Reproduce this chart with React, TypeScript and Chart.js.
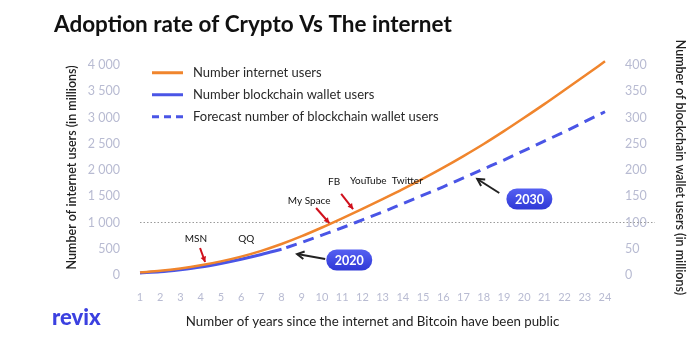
import React, { useEffect, useRef } from 'react';
import { Chart, registerables } from 'chart.js';

Chart.register(...registerables);

// ---------- data ----------
const years = ['1', '2', '3', '4', '5', '6', '7', '8', '9', '10', '11', '12', '13', '14', '15', '16', '17', '18', '19', '20', '21', '22', '23', '24'];
const internetUsers = [50, 80, 125, 185, 260, 350, 460, 590, 740, 905, 1080, 1260, 1445, 1635, 1835, 2045, 2265, 2495, 2740, 2995, 3255, 3525, 3795, 4070];
const walletUsers = [4, 6, 10, 15, 22, 30, 39, 49, null, null, null, null, null, null, null, null, null, null, null, null, null, null, null, null];
const walletForecast = [null, null, null, null, null, null, null, 49, 62, 76, 90, 105, 120, 136, 152, 168, 185, 202, 219, 237, 255, 273, 292, 311];
const leftTicks = [0, 500, 1000, 1500, 2000, 2500, 3000, 3500, 4000];
const rightTicks = [0, 50, 100, 150, 200, 250, 300, 350, 400];
const referenceLine = 1000;

const seriesNames = ['Number internet users', 'Number blockchain wallet users', 'Forecast number of blockchain wallet users'];

// annotations, in (year, left-axis value) units
const eventLabels = [
  { text: 'MSN', year: 3.77, value: 686 },
  { text: 'QQ', year: 6.25, value: 686 },
  { text: 'My Space', year: 9.37, value: 1410 },
  { text: 'FB', year: 10.6, value: 1771 },
  { text: 'YouTube', year: 12.29, value: 1790 },
  { text: 'Twitter', year: 14.22, value: 1790 },
];
const redArrows = [
  { fromYear: 3.97, fromValue: 514, toYear: 4.22, toValue: 248 },
  { fromYear: 9.71, fromValue: 1276, toYear: 10.36, toValue: 990 },
  { fromYear: 10.95, fromValue: 1543, toYear: 11.54, toValue: 1257 },
];
const blackArrows = [
  { fromYear: 10.16, fromValue: 305, toYear: 8.77, toValue: 400 },
  { fromYear: 18.77, fromValue: 1562, toYear: 17.68, toValue: 1829 },
];
const badges = [
  { text: '2020', year: 11.35, value: 286 },
  { text: '2030', year: 20.26, value: 1448 },
];

const ORANGE = '#f0852d';
const BLUE = '#4a55e6';
const TICK = '#b8bbd2';
const FONT = 'Lato, "Noto Sans", sans-serif';

function fmtThousands(v: number) {
  const s = String(Math.round(v));
  if (s.length <= 3) return s;
  return s.slice(0, s.length - 3) + ' ' + s.slice(s.length - 3);
}

function arrowHead(ctx: CanvasRenderingContext2D, x1: number, y1: number, x2: number, y2: number, size: number, filled: boolean) {
  const a = Math.atan2(y2 - y1, x2 - x1);
  const p1x = x2 - size * Math.cos(a - 0.5);
  const p1y = y2 - size * Math.sin(a - 0.5);
  const p2x = x2 - size * Math.cos(a + 0.5);
  const p2y = y2 - size * Math.sin(a + 0.5);
  ctx.beginPath();
  if (filled) {
    ctx.moveTo(x2, y2);
    ctx.lineTo(p1x, p1y);
    ctx.lineTo(p2x, p2y);
    ctx.closePath();
    ctx.fill();
  } else {
    ctx.moveTo(p1x, p1y);
    ctx.lineTo(x2, y2);
    ctx.lineTo(p2x, p2y);
    ctx.stroke();
  }
}

const decorPlugin = {
  id: 'decor',
  beforeDatasetsDraw(chart: any) {
    const { ctx, chartArea, scales } = chart;
    const y = scales.y.getPixelForValue(referenceLine);
    ctx.save();
    ctx.strokeStyle = '#9a9a9a';
    ctx.lineWidth = 1;
    ctx.setLineDash([1.5, 2]);
    ctx.beginPath();
    ctx.moveTo(chartArea.left, y);
    ctx.lineTo(chartArea.right + 50, y);
    ctx.stroke();
    ctx.restore();
  },
  afterDraw(chart: any) {
    const { ctx, chartArea, scales } = chart;
    const px = (yr: number) => scales.x.getPixelForValue(yr - 1);
    const py = (v: number) => scales.y.getPixelForValue(v);
    ctx.save();

    // title
    ctx.fillStyle = '#111';
    ctx.font = `bold 22.5px ${FONT}`;
    ctx.textAlign = 'left';
    ctx.textBaseline = 'middle';
    ctx.fillText('Adoption rate of Crypto Vs The internet', 54, 25);

    // logo
    ctx.fillStyle = '#3b40e0';
    ctx.font = `900 22px ${FONT}`;
    ctx.fillText('revix', 52, 318);

    // legend
    const lx = chartArea.left + 12;
    const rows = [chartArea.top + 13, chartArea.top + 35, chartArea.top + 57];
    const ds = chart.data.datasets;
    rows.forEach((ry, i) => {
      ctx.strokeStyle = ds[i].borderColor;
      ctx.lineWidth = 3;
      ctx.setLineDash(i === 2 ? [7, 5] : []);
      ctx.beginPath();
      ctx.moveTo(lx, ry);
      ctx.lineTo(lx + 31, ry);
      ctx.stroke();
      ctx.setLineDash([]);
      ctx.fillStyle = '#2a2a2a';
      ctx.font = `13px ${FONT}`;
      ctx.textAlign = 'left';
      ctx.textBaseline = 'middle';
      ctx.fillText(seriesNames[i], lx + 41, ry);
    });

    // event labels
    ctx.fillStyle = '#111';
    ctx.font = `10px ${FONT}`;
    ctx.textAlign = 'center';
    eventLabels.forEach((l) => ctx.fillText(l.text, px(l.year), py(l.value)));

    // red arrows
    ctx.strokeStyle = '#d0101c';
    ctx.fillStyle = '#d0101c';
    ctx.lineWidth = 2;
    redArrows.forEach((a) => {
      const x1 = px(a.fromYear), y1 = py(a.fromValue), x2 = px(a.toYear), y2 = py(a.toValue);
      ctx.beginPath();
      ctx.moveTo(x1, y1);
      ctx.lineTo(x2, y2);
      ctx.stroke();
      arrowHead(ctx, x1, y1, x2, y2, 6, true);
    });

    // black arrows
    ctx.strokeStyle = '#222';
    ctx.lineWidth = 2;
    blackArrows.forEach((a) => {
      const x1 = px(a.fromYear), y1 = py(a.fromValue), x2 = px(a.toYear), y2 = py(a.toValue);
      ctx.beginPath();
      ctx.moveTo(x1, y1);
      ctx.lineTo(x2, y2);
      ctx.stroke();
      arrowHead(ctx, x1, y1, x2, y2, 8, false);
    });

    // badges
    badges.forEach((b) => {
      const cx = px(b.year), cy = py(b.value);
      const w = 46, h = 21, r = 10.5;
      const g = ctx.createLinearGradient(0, cy - h / 2, 0, cy + h / 2);
      g.addColorStop(0, '#5560f2');
      g.addColorStop(1, '#2f38d6');
      ctx.fillStyle = g;
      ctx.beginPath();
      ctx.roundRect(cx - w / 2, cy - h / 2, w, h, r);
      ctx.fill();
      ctx.fillStyle = '#ffffff';
      ctx.font = `bold 12.5px ${FONT}`;
      ctx.textAlign = 'center';
      ctx.textBaseline = 'middle';
      ctx.fillText(b.text, cx, cy + 0.5);
    });

    ctx.restore();
  },
};

export default function App() {
  const ref = useRef<HTMLCanvasElement | null>(null);

  useEffect(() => {
    if (!ref.current) return;
    const chart = new Chart(ref.current, {
      type: 'line',
      data: {
        labels: years,
        datasets: [
          {
            label: seriesNames[0],
            data: internetUsers,
            yAxisID: 'y',
            borderColor: ORANGE,
            borderWidth: 2.5,
            pointRadius: 0,
            cubicInterpolationMode: 'monotone',
          },
          {
            label: seriesNames[1],
            data: walletUsers,
            yAxisID: 'y2',
            borderColor: BLUE,
            borderWidth: 3,
            pointRadius: 0,
            cubicInterpolationMode: 'monotone',
          },
          {
            label: seriesNames[2],
            data: walletForecast,
            yAxisID: 'y2',
            borderColor: BLUE,
            borderWidth: 3,
            borderDash: [11, 7],
            borderDashOffset: 13,
            pointRadius: 0,
            cubicInterpolationMode: 'monotone',
          },
        ],
      },
      options: {
        responsive: false,
        animation: false,
        devicePixelRatio: 1,
        layout: { padding: { top: 59.75, left: 0, right: 0, bottom: 0 } },
        plugins: {
          legend: { display: false },
          tooltip: { enabled: false },
          title: { display: false },
        },
        scales: {
          x: {
            type: 'category',
            offset: false,
            grid: { display: false, drawTicks: false },
            border: { display: false },
            ticks: {
              color: TICK,
              font: { family: FONT, size: 11 },
              padding: 15.4,
              autoSkip: false,
              maxRotation: 0,
            },
            title: {
              display: true,
              text: 'Number of years since the internet and Bitcoin have been public',
              color: '#222',
              font: { family: FONT, size: 13.3 },
              padding: { top: 0, bottom: 23 },
            },
            afterFit: (s: any) => { s.height = 78; },
          },
          y: {
            position: 'left',
            min: 0,
            max: 4100,
            grid: { display: false, drawTicks: false },
            border: { display: false },
            afterBuildTicks: (s: any) => { s.ticks = leftTicks.map((v) => ({ value: v })); },
            ticks: {
              color: TICK,
              font: { family: FONT, size: 12.5 },
              padding: 20,
              callback: (v: any) => fmtThousands(Number(v)),
            },
            title: {
              display: true,
              text: 'Number of internet users (in millions)',
              color: '#222',
              font: { family: FONT, size: 12.5, weight: '600' },
              padding: { top: 64.5, bottom: 0 },
            },
            afterFit: (s: any) => { s.width = 140; },
          },
          y2: {
            position: 'right',
            min: 0,
            max: 410,
            grid: { display: false, drawTicks: false },
            border: { display: false },
            afterBuildTicks: (s: any) => { s.ticks = rightTicks.map((v) => ({ value: v })); },
            ticks: {
              color: TICK,
              font: { family: FONT, size: 12.5 },
              padding: 20,
            },
            title: {
              display: true,
              text: 'Number of blockchain wallet users (in millions)',
              color: '#222',
              font: { family: FONT, size: 12.5, weight: '600' },
              padding: { top: 12.5, bottom: 0 },
            },
            afterFit: (s: any) => { s.width = 95; },
          },
        },
      },
      plugins: [decorPlugin],
    } as any);
    return () => chart.destroy();
  }, []);

  return (
    <div style={{ position: 'absolute', left: 0, top: 0, width: 700, height: 353, background: '#ffffff' }}>
      <canvas ref={ref} width={700} height={353} style={{ width: 700, height: 353, display: 'block' }} />
    </div>
  );
}
